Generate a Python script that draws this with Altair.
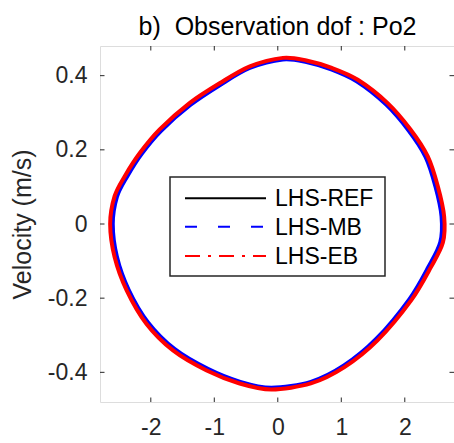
import altair as alt
import pandas as pd

# ---- data ----
eb_disp = [-2.64, -2.57, -2.41, -2.17, -1.86, -1.39, -0.91, -0.44, 0.08, 0.45, 0.85, 1.26, 1.73, 2.09, 2.36, 2.52, 2.62,
           2.60, 2.41, 2.10, 1.57, 1.05, 0.52, -0.10, -0.60, -1.12, -1.65, -2.07, -2.38, -2.57]
eb_vel = [0.000, 0.075, 0.129, 0.192, 0.255, 0.326, 0.380, 0.425, 0.448, 0.441, 0.421, 0.389, 0.326, 0.255, 0.183, 0.102, 0.020,
          -0.050, -0.117, -0.206, -0.314, -0.386, -0.430, -0.446, -0.430, -0.395, -0.341, -0.269, -0.179, -0.089]

mb_disp = [-2.595, -2.53, -2.375, -2.14, -1.835, -1.37, -0.90, -0.44, 0.08, 0.45, 0.84, 1.24, 1.70, 2.06, 2.325, 2.48, 2.575,
           2.555, 2.37, 2.07, 1.55, 1.04, 0.52, -0.10, -0.59, -1.10, -1.62, -2.04, -2.345, -2.53]
mb_vel = [0.000, 0.073, 0.126, 0.189, 0.251, 0.321, 0.375, 0.420, 0.443, 0.436, 0.416, 0.384, 0.322, 0.251, 0.180, 0.100, 0.020,
          -0.049, -0.115, -0.202, -0.309, -0.381, -0.425, -0.441, -0.425, -0.390, -0.337, -0.265, -0.177, -0.088]

ref_disp = [-2.60, -2.535, -2.38, -2.145, -1.84, -1.375, -0.90, -0.44, 0.08, 0.45, 0.84, 1.245, 1.705, 2.065, 2.33, 2.485, 2.58,
            2.56, 2.375, 2.075, 1.555, 1.04, 0.52, -0.10, -0.59, -1.105, -1.625, -2.045, -2.35, -2.535]
ref_vel = [0.000, 0.073, 0.127, 0.190, 0.252, 0.322, 0.376, 0.421, 0.444, 0.437, 0.417, 0.385, 0.323, 0.252, 0.181, 0.100, 0.020,
           -0.049, -0.115, -0.203, -0.310, -0.382, -0.426, -0.442, -0.426, -0.391, -0.338, -0.266, -0.177, -0.088]

legend_labels = ["LHS-REF", "LHS-MB", "LHS-EB"]
x_ticks = [-2, -1, 0, 1, 2]
y_ticks = [-0.4, -0.2, 0, 0.2, 0.4]
title_text = "b)\u00a0 Observation dof : Po2"
y_title = "Velocity (m/s)"

W, H = 354, 356
AX = "#262626"
FONT = "Liberation Sans"


def frame(d, v):
    return pd.DataFrame({"disp": d, "vel": v, "idx": list(range(len(d)))})


xs = alt.Scale(domain=[-2.8, 2.775], nice=False, zero=False)
ys = alt.Scale(domain=[-0.48, 0.48], nice=False, zero=False)

lbl_expr = "datum.value < 0 ? '-' + format(-datum.value, '~g') : format(datum.value, '~g')"

x_axis = alt.Axis(values=x_ticks, title=None, ticks=False, domain=False, grid=False,
                  labelFontSize=23, labelColor=AX, labelFont=FONT, labelPadding=14,
                  labelExpr=lbl_expr)
y_axis = alt.Axis(values=y_ticks, title=y_title, ticks=False, domain=False, grid=False,
                  labelFontSize=23, labelColor=AX, labelFont=FONT, labelPadding=13,
                  labelExpr=lbl_expr, titleFontSize=25, titleFont=FONT, titleColor=AX,
                  titleFontWeight="normal", titleAngle=-90, titleX=-78, titleY=H / 2,
                  titleAlign="center", titleBaseline="middle")


def curve(df, color, width):
    return alt.Chart(df).mark_line(color=color, strokeWidth=width, interpolate="cardinal-closed",
                                   tension=0.1, clip=True).encode(
        x=alt.X("disp:Q", scale=xs, axis=x_axis),
        y=alt.Y("vel:Q", scale=ys, axis=y_axis),
        order="idx:Q")


ref_line = curve(frame(ref_disp, ref_vel), "#000000", 2.5)
mb_line = curve(frame(mb_disp, mb_vel), "#0000FF", 3.5)
eb_line = curve(frame(eb_disp, eb_vel), "#FF0000", 4)

xt = pd.DataFrame({"disp": x_ticks})
yt = pd.DataFrame({"vel": y_ticks})
tick_bottom = alt.Chart(xt).mark_rule(color=AX, strokeWidth=1).encode(
    x=alt.X("disp:Q", scale=xs, axis=x_axis), y=alt.value(H), y2=alt.value(H - 4.5))
tick_top = alt.Chart(xt).mark_rule(color=AX, strokeWidth=1).encode(
    x=alt.X("disp:Q", scale=xs, axis=x_axis), y=alt.value(0), y2=alt.value(4.5))
tick_left = alt.Chart(yt).mark_rule(color=AX, strokeWidth=1).encode(
    y=alt.Y("vel:Q", scale=ys, axis=y_axis), x=alt.value(0), x2=alt.value(4.5))
tick_right = alt.Chart(yt).mark_rule(color=AX, strokeWidth=1).encode(
    y=alt.Y("vel:Q", scale=ys, axis=y_axis), x=alt.value(W), x2=alt.value(W - 4.5))

one = pd.DataFrame({"a": [0]})
title_mark = alt.Chart(one).mark_text(align="center", baseline="alphabetic", fontSize=25, font=FONT,
                                      color="#000000").encode(
    x=alt.value(177.5), y=alt.value(-11), text=alt.value(title_text))

leg_box = alt.Chart(one).mark_rect(fill="white", stroke=AX, strokeWidth=1.5).encode(
    x=alt.value(70), x2=alt.value(285), y=alt.value(131), y2=alt.value(230))

rows_y = [152.3, 180.7, 210]
styles = [("#000000", []), ("#0000FF", [12, 21]), ("#FF0000", [15, 8, 3, 8])]
leg_layers = [leg_box]
for lab, yy, (col, dash) in zip(legend_labels, rows_y, styles):
    kw = {"strokeDash": dash} if dash else {}
    leg_layers.append(alt.Chart(one).mark_rule(color=col, strokeWidth=2, **kw).encode(
        x=alt.value(85), x2=alt.value(166), y=alt.value(yy)))
    leg_layers.append(alt.Chart(one).mark_text(align="left", baseline="middle", fontSize=23, font=FONT,
                                               color="#000000").encode(
        x=alt.value(175), y=alt.value(yy + 1), text=alt.value(lab)))

chart = alt.layer(ref_line, mb_line, eb_line, tick_bottom, tick_top, tick_left, tick_right,
                  title_mark, *leg_layers).properties(
    width=W, height=H,
    padding={"left": 100, "top": 46, "right": 0, "bottom": 41},
    autosize=alt.AutoSizeParams(type="none"),
).configure_view(stroke=AX, strokeWidth=1.3).configure(background="white")

chart.save("out.html", embed_options={"renderer": "svg", "actions": False})
